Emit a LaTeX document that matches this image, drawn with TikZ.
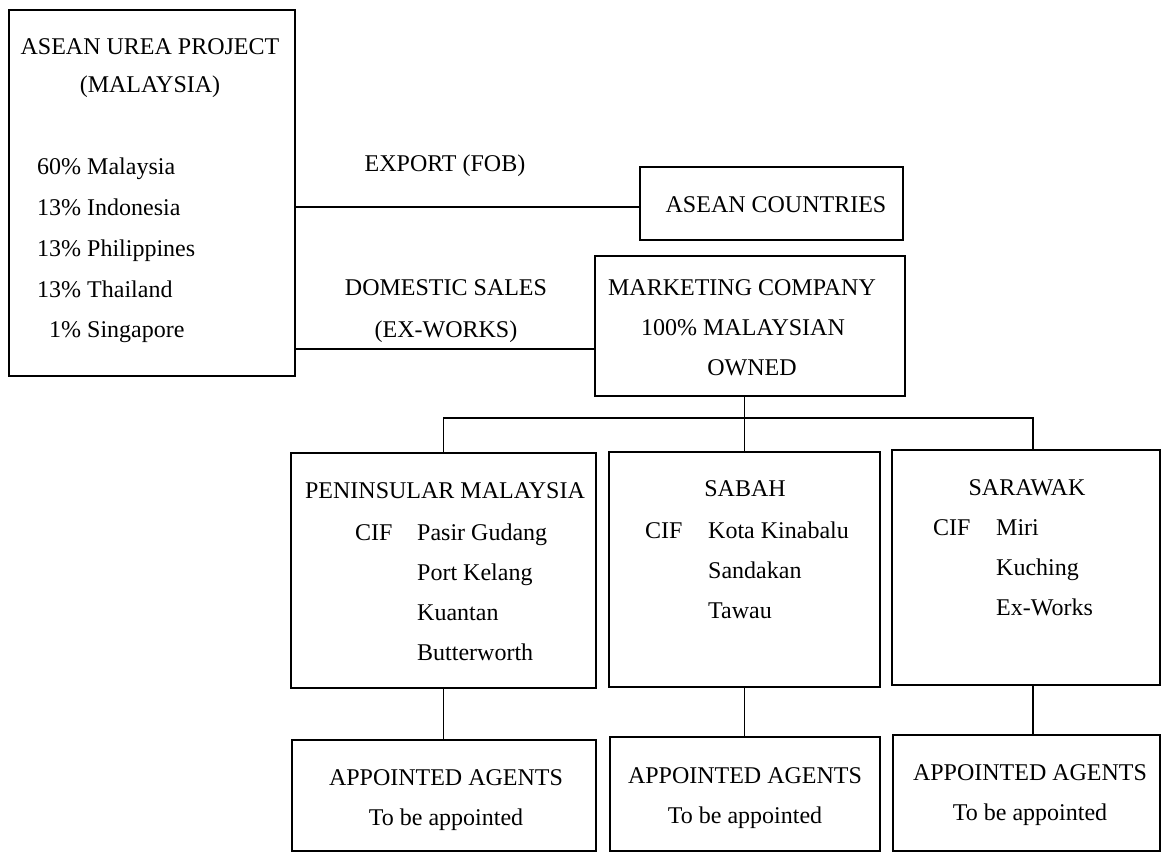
\documentclass[tikz,border=0pt]{standalone}
\usepackage{fontspec}
\setmainfont{Liberation Serif}
\begin{document}
\begin{tikzpicture}[x=1pt,y=-1pt,
  box/.style={draw,line width=1.8pt,inner sep=0pt,outer sep=0pt},
  conn/.style={line width=1.8pt},
  txt/.style={inner sep=0pt,font=\fontsize{24}{28}\selectfont},
  ctr/.style={txt,anchor=base},
  lft/.style={txt,anchor=base west}]
\useasboundingbox (0,0) rectangle (1162,853);
% boxes
\node[box,minimum width=286pt,minimum height=366pt] (proj) at (152,193) {};
\node[box,minimum width=263pt,minimum height=73pt] (asean) at (771.5,203.5) {};
\node[box,minimum width=310pt,minimum height=140pt] (mkt) at (750,326) {};
\node[box,minimum width=305pt,minimum height=235pt] (pen) at (443.5,570.5) {};
\node[box,minimum width=271pt,minimum height=235pt] (sab) at (744.5,569.5) {};
\node[box,minimum width=268pt,minimum height=235pt] (sar) at (1026,567.5) {};
\node[box,minimum width=304pt,minimum height=111pt] (ag1) at (444,795.5) {};
\node[box,minimum width=270pt,minimum height=114pt] (ag2) at (745,794) {};
\node[box,minimum width=267pt,minimum height=116pt] (ag3) at (1026.5,793) {};
% helper coordinates
\coordinate (exy) at (0,207);
\coordinate (domy) at (0,349);
\coordinate (busy) at (0,418);
\coordinate (sarin) at ([xshift=7pt]sar.north);
\coordinate (sarout) at ([xshift=7pt]sar.south);
% connectors
\draw[conn] (proj.east |- exy) -- (asean.west |- exy);
\draw[conn] (proj.east |- domy) -- (mkt.west |- domy);
\draw[conn] (sab.north |- mkt.south) -- (sab.north);
\draw[conn] (pen.north) -- (pen.north |- busy) -- (sarin |- busy) -- (sarin);
\draw[conn] (pen.south) -- (pen.south |- ag1.north);
\draw[conn] (sab.south) -- (sab.south |- ag2.north);
\draw[conn] (sarout) -- (sarout |- ag3.north);
% project box text
\node[ctr] (t1) at (150,55) {ASEAN UREA PROJECT};
\node[ctr] (t2) at (150,93) {(MALAYSIA)};
\node[lft] (l1) at (37,175) {60\% Malaysia};
\node[lft] (l2) at (37,216) {13\% Indonesia};
\node[lft] (l3) at (37,256) {13\% Philippines};
\node[lft] (l4) at (37,297) {13\% Thailand};
\node[lft] (l5) at (37,337) {\phantom{1}1\% Singapore};
% connector labels
\node[ctr] (ex) at (445,172) {EXPORT (FOB)};
\node[ctr] (dom1) at (446,295) {DOMESTIC SALES};
\node[ctr] (dom2) at (446,337) {(EX-WORKS)};
% asean & marketing
\node[ctr] (at) at (776,213) {ASEAN COUNTRIES};
\node[ctr] (m1) at (742,295) {MARKETING COMPANY};
\node[ctr] (m2) at (743,335) {100\% MALAYSIAN};
\node[ctr] (m3) at (752,375) {OWNED};
% peninsular
\node[ctr] (p0) at (445,498) {PENINSULAR MALAYSIA};
\node[lft] (pc) at (355,540) {CIF};
\node[lft] (p1) at (417,540) {Pasir Gudang};
\node[lft] (p2) at (417,580) {Port Kelang};
\node[lft] (p3) at (417,620) {Kuantan};
\node[lft] (p4) at (417,660) {Butterworth};
% sabah
\node[ctr] (s0) at (745,496) {SABAH};
\node[lft] (sc) at (645,538) {CIF};
\node[lft] (s1) at (708,538) {Kota Kinabalu};
\node[lft] (s2) at (708,578) {Sandakan};
\node[lft] (s3) at (708,618) {Tawau};
% sarawak
\node[ctr] (w0) at (1027,495) {SARAWAK};
\node[lft] (wc) at (933,535) {CIF};
\node[lft] (w1) at (996,535) {Miri};
\node[lft] (w2) at (996,575) {Kuching};
\node[lft] (w3) at (996,615) {Ex-Works};
% agents
\node[ctr] (a1) at (446,785) {APPOINTED AGENTS};
\node[ctr] (b1) at (446,825) {To be appointed};
\node[ctr] (a2) at (745,783) {APPOINTED AGENTS};
\node[ctr] (b2) at (745,823) {To be appointed};
\node[ctr] (a3) at (1030,780) {APPOINTED AGENTS};
\node[ctr] (b3) at (1030,820) {To be appointed};
\end{tikzpicture}
\end{document}
